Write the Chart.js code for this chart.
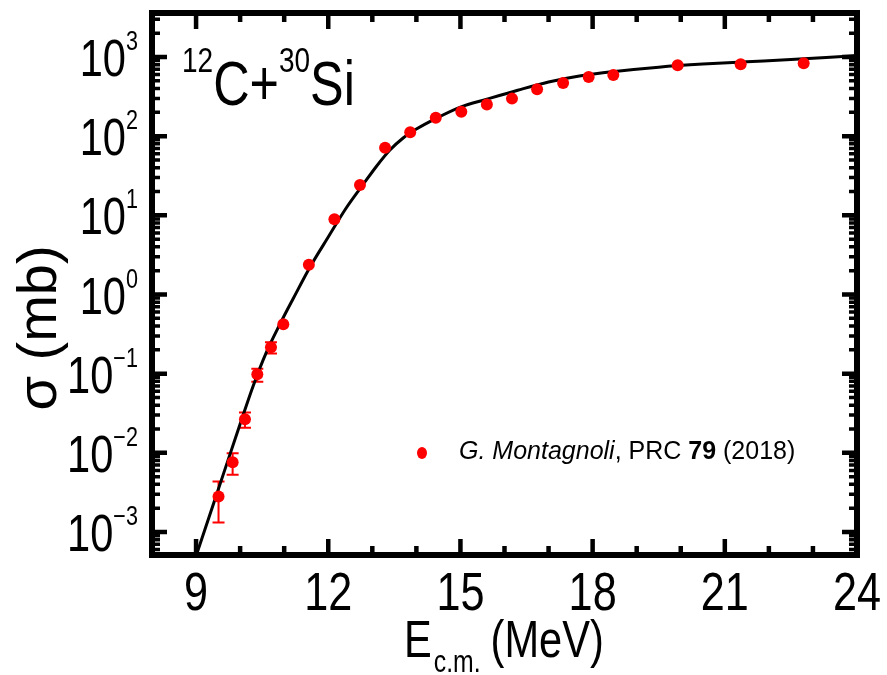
<!DOCTYPE html>
<html>
<head>
<meta charset="utf-8">
<script src="https://cdn.jsdelivr.net/npm/chart.js@4.4.0/dist/chart.umd.min.js"></script>
<style>
  html, body { margin: 0; padding: 0; background: #fff; }
  #wrap { width: 887px; height: 675px; position: relative; }
</style>
</head>
<body>
<div id="wrap"><canvas id="chart"></canvas></div>
<script>
// measured fusion cross sections (Montagnoli)
const energy = [9.51, 9.83, 10.11, 10.39, 10.70, 10.98, 11.56, 12.14, 12.72, 13.29, 13.86,
  14.44, 15.02, 15.60, 16.17, 16.74, 17.33, 17.91, 18.47, 19.93, 21.36, 22.79];
const sigma = [0.0028, 0.0076, 0.0266, 0.0986, 0.216, 0.42, 2.37, 8.93, 24.2, 71.6, 112,
  171, 204, 252, 298, 391, 470, 559, 593, 786, 809, 832];
const sigmaLow = [0.00132, 0.0053, 0.0207, 0.079, 0.18];
const sigmaHigh = [0.00434, 0.0099, 0.0323, 0.115, 0.25];

// calculated curve
const fitE = [9.0, 9.5, 10.0, 10.3, 10.6, 10.9, 11.2, 11.6, 12.0, 12.4, 12.8, 13.1, 13.4,
  13.7, 14.0, 14.45, 15.0, 15.6, 16.3, 17.0, 17.7, 18.5, 19.5, 20.5, 21.5, 22.5, 23.3, 24.0];
const fitSigma = [4.98e-4, 3.40e-3, 0.0231, 0.0710, 0.188, 0.418, 0.877, 2.29, 5.32, 12.2,
  24.9, 42.0, 66.8, 94.8, 123, 168, 233, 293, 380, 483, 575, 656, 743, 813, 870, 930, 986, 1045];

// axes
const xTicks = [9, 12, 15, 18, 21, 24];
const xTickLabels = ['9', '12', '15', '18', '21', '24'];
const yTicks = [1e-3, 1e-2, 1e-1, 1e0, 1e1, 1e2, 1e3];
const yTickExps = ['\u22123', '\u22122', '\u22121', '0', '1', '2', '3'];

const FONT = "'Liberation Sans', Arial, sans-serif";

function drawRuns(ctx, runs, x, y, sx) {
  // runs: text pieces with size, style and vertical offset
  let cx = x;
  runs.forEach(function(r) {
    ctx.font = (r.style || '') + ' ' + r.size + 'px ' + FONT;
    let w = ctx.measureText(r.text).width * sx;
    ctx.save();
    ctx.translate(cx, y + (r.dy || 0));
    ctx.scale(sx, 1);
    ctx.fillText(r.text, 0, 0);
    ctx.restore();
    cx += w;
  });
  return cx;
}

function runsWidth(ctx, runs, sx) {
  let w = 0;
  runs.forEach(function(r) {
    ctx.font = (r.style || '') + ' ' + r.size + 'px ' + FONT;
    w += ctx.measureText(r.text).width * sx;
  });
  return w;
}

const errorBars = {
  id: 'errorBars',
  beforeDatasetsDraw(chart) {
    let ctx = chart.ctx;
    let xs = chart.scales.x, ys = chart.scales.y;
    ctx.save();
    ctx.strokeStyle = '#ff0000';
    ctx.lineWidth = 2;
    for (let i = 0; i < sigmaLow.length; i++) {
      let px = xs.getPixelForValue(energy[i]);
      let yl = ys.getPixelForValue(sigmaLow[i]);
      let yh = ys.getPixelForValue(sigmaHigh[i]);
      ctx.beginPath();
      ctx.moveTo(px, yl); ctx.lineTo(px, yh);
      ctx.moveTo(px - 6, yl); ctx.lineTo(px + 6, yl);
      ctx.moveTo(px - 6, yh); ctx.lineTo(px + 6, yh);
      ctx.stroke();
    }
    ctx.restore();
  }
};

const frame = {
  id: 'frame',
  afterDraw(chart) {
    let ctx = chart.ctx;
    let a = chart.chartArea;
    let xs = chart.scales.x, ys = chart.scales.y;
    ctx.save();
    ctx.fillStyle = '#000';
    ctx.strokeStyle = '#000';

    // ticks, inward on all four sides
    ctx.lineWidth = 4.5;
    ctx.lineCap = 'butt';
    for (let v = 8; v <= 24; v++) {
      let len = xTicks.includes(v) ? 16 : 9;
      let px = xs.getPixelForValue(v);
      ctx.beginPath();
      ctx.moveTo(px, a.bottom); ctx.lineTo(px, a.bottom - len);
      ctx.moveTo(px, a.top); ctx.lineTo(px, a.top + len);
      ctx.stroke();
    }
    for (let d = -4; d <= 3; d++) {
      for (let k = 1; k <= 9; k++) {
        let v = k * Math.pow(10, d);
        if (v < ys.min || v > ys.max) continue;
        let len = k === 1 ? 15 : 8;
        let py = ys.getPixelForValue(v);
        ctx.lineWidth = k === 1 ? 4.5 : 3.5;
        ctx.beginPath();
        ctx.moveTo(a.left, py); ctx.lineTo(a.left + len, py);
        ctx.moveTo(a.right, py); ctx.lineTo(a.right - len, py);
        ctx.stroke();
      }
    }

    ctx.lineWidth = 6;
    ctx.strokeRect(a.left, a.top, a.right - a.left, a.bottom - a.top);

    // tick labels
    ctx.textBaseline = 'alphabetic';
    ctx.textAlign = 'left';
    xTicks.forEach(function(v, i) {
      let runs = [{ text: xTickLabels[i], size: 54 }];
      let w = runsWidth(ctx, runs, 0.8);
      drawRuns(ctx, runs, xs.getPixelForValue(v) - w / 2, 610, 0.8);
    });
    yTicks.forEach(function(v, i) {
      let runs = [{ text: '10', size: 52 }, { text: yTickExps[i], size: 27, dy: -26 }];
      let w = runsWidth(ctx, runs, 0.8);
      drawRuns(ctx, runs, 138 - w, ys.getPixelForValue(v) + 19, 0.8);
    });

    // axis titles
    let ex = drawRuns(ctx, [{ text: 'E', size: 52 }], 404, 657, 0.8);
    ex = drawRuns(ctx, [{ text: 'c.m.', size: 31 }], ex + 2, 672, 0.8);
    drawRuns(ctx, [{ text: '(MeV)', size: 52 }], ex + 10, 657, 0.8);

    ctx.save();
    ctx.translate(56, 328);
    ctx.rotate(-Math.PI / 2);
    ctx.textAlign = 'center';
    ctx.font = '56px ' + FONT;
    ctx.fillText('\u03c3 (mb)', 0, 0);
    ctx.restore();

    // system label
    drawRuns(ctx, [
      { text: '12', size: 35, dy: -33 },
      { text: 'C+', size: 63 },
      { text: '30', size: 35, dy: -33 },
      { text: 'Si', size: 63 }
    ], 182, 105, 0.8);

    // legend
    ctx.fillStyle = '#ff0000';
    ctx.beginPath();
    ctx.ellipse(422, 453, 5, 6, 0, 0, Math.PI * 2);
    ctx.fill();
    ctx.fillStyle = '#000';
    drawRuns(ctx, [
      { text: 'G. Montagnoli', size: 25, style: 'italic' },
      { text: ', PRC ', size: 25 },
      { text: '79', size: 25, style: 'bold' },
      { text: ' (2018)', size: 25 }
    ], 459, 459, 1);

    ctx.restore();
  }
};

new Chart(document.getElementById('chart'), {
  type: 'scatter',
  data: {
    datasets: [{
      label: 'G. Montagnoli, PRC 79 (2018)',
      data: energy.map(function(e, i) { return { x: e, y: sigma[i] }; }),
      backgroundColor: '#ff0000',
      borderColor: '#ff0000',
      pointRadius: 6,
      pointBorderWidth: 0,
      showLine: false
    }, {
      label: 'calc',
      data: fitE.map(function(e, i) { return { x: e, y: fitSigma[i] }; }),
      showLine: true,
      borderColor: '#000',
      borderWidth: 3,
      pointRadius: 0,
      cubicInterpolationMode: 'monotone',
      fill: false
    }]
  },
  options: {
    responsive: true,
    maintainAspectRatio: false,
    animation: false,
    layout: { padding: { left: 152, top: 13, right: 30, bottom: 120 } },
    plugins: { legend: { display: false }, tooltip: { enabled: false } },
    scales: {
      x: { type: 'linear', min: 8, max: 24, display: false },
      y: { type: 'logarithmic', min: 5.124e-4, max: 3595, display: false }
    }
  },
  plugins: [errorBars, frame]
});
</script>
</body>
</html>
